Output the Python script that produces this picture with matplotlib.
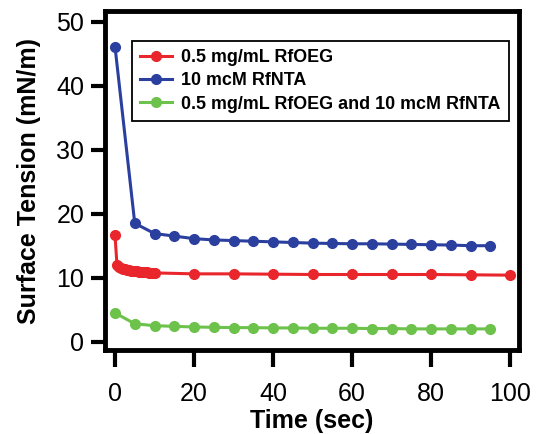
import matplotlib.pyplot as plt
import numpy as np

plt.rcParams['font.family'] = ['Liberation Sans', 'DejaVu Sans']

# Data
t_red = [0, 0.5, 1, 1.5, 2, 2.5, 3, 3.5, 4, 4.5, 5, 5.5, 6, 6.5, 7, 7.5, 8, 8.5, 9, 9.5, 10,
         20, 30, 40, 50, 60, 70, 80, 90, 100]
st_red = [16.6, 12.0, 11.7, 11.5, 11.4, 11.3, 11.2, 11.15, 11.1, 11.05, 11.0, 11.0, 10.95, 10.9,
          10.9, 10.85, 10.85, 10.8, 10.8, 10.8, 10.75,
          10.6, 10.6, 10.55, 10.5, 10.5, 10.5, 10.5, 10.45, 10.4]

t_blue = list(range(0, 100, 5))
st_blue = [46.1, 18.5, 16.9, 16.5, 16.1, 15.9, 15.8, 15.7, 15.6, 15.5,
           15.4, 15.35, 15.3, 15.3, 15.25, 15.2, 15.15, 15.1, 15.0, 15.0]

t_green = list(range(0, 100, 5))
st_green = [4.5, 2.8, 2.5, 2.4, 2.3, 2.25, 2.2, 2.2, 2.15, 2.15,
            2.1, 2.1, 2.1, 2.05, 2.05, 2.0, 2.0, 2.0, 2.0, 2.0]

labels = ['0.5 mg/mL RfOEG', '10 mcM RfNTA', '0.5 mg/mL RfOEG and 10 mcM RfNTA']
colors = ['#e8262b', '#2b3f9e', '#6cc24a']

fig = plt.figure(figsize=(5.38, 4.34), dpi=100)
ax = fig.add_axes([0.1952, 0.1924, 0.7686, 0.7834])

for t, v, lab, c in zip([t_red, t_blue, t_green], [st_red, st_blue, st_green], labels, colors):
    ax.plot(t, v, '-o', color=c, label=lab, lw=2.2, ms=7)

ax.set_xlim(-2.53, 102.15)
ax.set_ylim(-1.375, 51.75)
ax.set_xticks(np.arange(0, 101, 20))
ax.set_yticks(np.arange(0, 51, 10))

for s in ax.spines.values():
    s.set_linewidth(3.5)
ax.tick_params(direction='out', width=3, labelsize=18)
ax.tick_params(axis='x', length=12, pad=11)
ax.tick_params(axis='y', length=10, pad=5)

ax.set_xlabel('Time (sec)', fontsize=18, fontweight='bold', labelpad=2)
ax.set_ylabel('Surface Tension (mN/m)', fontsize=18, fontweight='bold', labelpad=11)

leg = ax.legend(loc='upper left', bbox_to_anchor=(0.065, 0.91), fancybox=False,
                edgecolor='black', framealpha=1, borderpad=0.45, labelspacing=0.35,
                handlelength=1.8, handletextpad=0.5, borderaxespad=0,
                prop={'weight': 'bold', 'size': 12.9})
leg.get_frame().set_linewidth(1.3)

fig.savefig('out.png', dpi=100)
